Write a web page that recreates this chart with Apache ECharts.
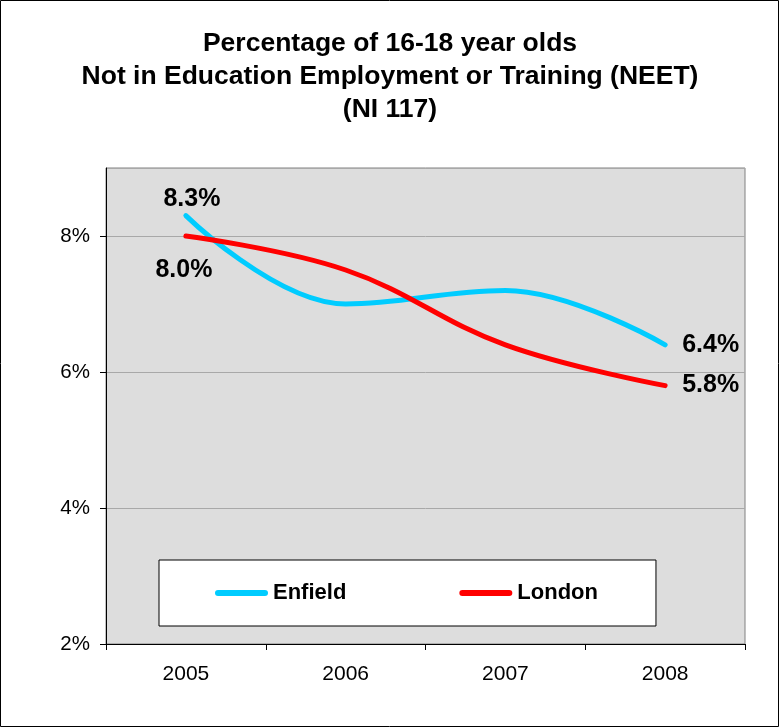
<!DOCTYPE html>
<html>
<head>
<meta charset="utf-8">
<script src="https://cdn.jsdelivr.net/npm/echarts@6/dist/echarts.min.js"></script>
<style>
html,body{margin:0;padding:0;background:#fff;}
#c{width:780px;height:728px;}
</style>
</head>
<body>
<div id="c"></div>
<script>
const years = ['2005', '2006', '2007', '2008'];
const enfield = [8.3, 7.0, 7.2, 6.4];
const london = [8.0, 7.5, 6.4, 5.8];
const yTicks = [2, 4, 6, 8];
const titleLines = ['Percentage of 16-18 year olds', 'Not in Education Employment or Training (NEET)', '(NI 117)'];

const FONT = '"Liberation Sans", Arial, sans-serif';

function labelled(values, firstLabel) {
  return values.map((v, i) => {
    const item = { value: v };
    if (i === 0) {
      item.label = Object.assign({ show: true }, firstLabel);
    } else if (i === values.length - 1) {
      item.label = { show: true, position: 'right', distance: 17 };
    }
    return item;
  });
}

const labelStyle = {
  show: false,
  formatter: p => p.value.toFixed(1) + '%',
  fontFamily: FONT,
  fontWeight: 'bold',
  fontSize: 25,
  color: '#000'
};

const chart = echarts.init(document.getElementById('c'), null, { renderer: 'canvas' });
chart.setOption({
  animation: false,
  backgroundColor: '#fff',
  title: {
    text: titleLines.join('\n'),
    left: 'center',
    top: 22,
    textStyle: { fontFamily: FONT, fontWeight: 'bold', fontSize: 26.5, lineHeight: 33, color: '#000' }
  },
  graphic: [{
    type: 'rect',
    shape: { x: 0.5, y: 0.5, width: 778, height: 726 },
    style: { fill: 'none', stroke: '#000', lineWidth: 1 },
    silent: true
  }],
  legend: {
    left: 159,
    top: 560,
    orient: 'horizontal',
    padding: [22, 58, 22, 56],
    itemGap: 113,
    itemWidth: 47,
    itemHeight: 6,
    backgroundColor: '#fff',
    borderColor: '#000',
    borderWidth: 1,
    borderRadius: 0,
    lineStyle: { width: 6, cap: 'round' },
    textStyle: { fontFamily: FONT, fontWeight: 'bold', fontSize: 22, color: '#000', padding: [0, 0, 0, 3] },
    data: ['Enfield', 'London']
  },
  grid: {
    left: 106, right: 35, top: 168, bottom: 84,
    show: true, backgroundColor: '#dddddd', borderColor: '#808080', borderWidth: 1
  },
  xAxis: {
    type: 'category',
    data: years,
    boundaryGap: true,
    axisLine: { show: true, lineStyle: { color: '#000', width: 1 } },
    axisTick: { show: true, length: 6, lineStyle: { color: '#000' } },
    axisLabel: { fontFamily: FONT, fontSize: 21, color: '#000', margin: 20 },
    splitLine: { show: false }
  },
  yAxis: {
    type: 'value',
    min: yTicks[0],
    max: 9,
    interval: 2,
    axisLine: { show: true, lineStyle: { color: '#000', width: 1 } },
    axisTick: { show: true, length: 6, lineStyle: { color: '#000' } },
    axisLabel: {
      fontFamily: FONT, fontSize: 20.5, color: '#000', margin: 16,
      showMaxLabel: false,
      formatter: v => (yTicks.indexOf(v) >= 0 ? v + '%' : '')
    },
    splitLine: { show: true, lineStyle: { color: '#a8a8a8', width: 1 } }
  },
  series: [
    {
      name: 'Enfield',
      type: 'line',
      smooth: 0.4,
      symbol: 'circle',
      symbolSize: 0.01,
      showSymbol: true,
      color: '#00ccff',
      lineStyle: { width: 5, color: '#00ccff', cap: 'round', join: 'round' },
      itemStyle: { color: '#00ccff' },
      label: labelStyle,
      data: labelled(enfield, { position: 'top', distance: 4, offset: [6, 0] })
    },
    {
      name: 'London',
      type: 'line',
      smooth: 0.4,
      symbol: 'circle',
      symbolSize: 0.01,
      showSymbol: true,
      color: '#ff0000',
      lineStyle: { width: 5, color: '#ff0000', cap: 'round', join: 'round' },
      itemStyle: { color: '#ff0000' },
      label: labelStyle,
      data: labelled(london, { position: 'bottom', distance: 22, offset: [-2, 0] })
    }
  ]
});
</script>
</body>
</html>
